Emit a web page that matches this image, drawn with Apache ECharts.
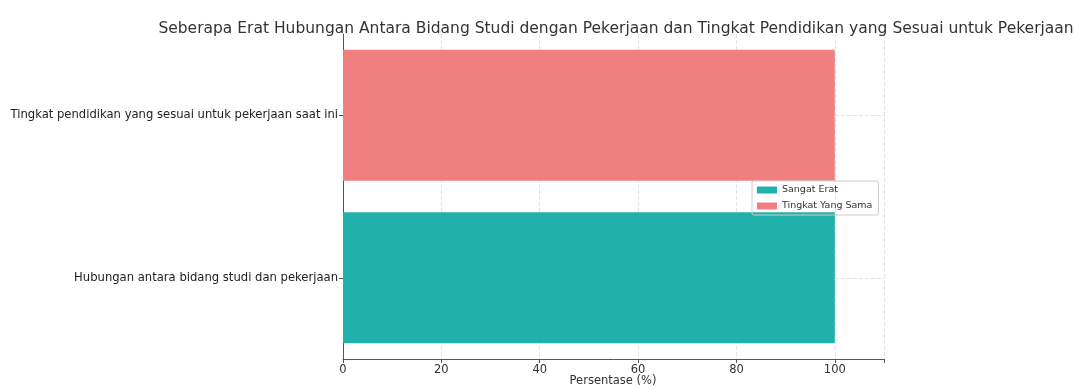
<!DOCTYPE html>
<html><head><meta charset="utf-8">
<script src="https://cdn.jsdelivr.net/npm/echarts@6/dist/echarts.min.js"></script>
<style>html,body{margin:0;padding:0;background:#fff}#c{width:1074px;height:387px}</style>
</head><body><div id="c"></div>
<script>
var titleText = 'Seberapa Erat Hubungan Antara Bidang Studi dengan Pekerjaan dan Tingkat Pendidikan yang Sesuai untuk Pekerjaan';
var xAxisName = 'Persentase (%)';
var categories = ['Hubungan antara bidang studi dan pekerjaan', 'Tingkat pendidikan yang sesuai untuk pekerjaan saat ini'];
var seriesNames = ['Sangat Erat', 'Tingkat Yang Sama'];
var sangatErat = [100, '-'];
var tingkatSama = ['-', 100];
var xTicks = [0, 20, 40, 60, 80, 100];
var xMax = 110;
var F = 'DejaVu Sans';
var chart = echarts.init(document.getElementById('c'));
chart.setOption({
  animation: false,
  title: [
    { text: titleText, left: 611, textAlign: 'center', top: 16,
      textStyle: { fontFamily: F, fontSize: 15.5, fontWeight: 'normal', color: '#333' } },
    { text: xAxisName, left: 613, textAlign: 'center', top: 375, padding: 0,
      textStyle: { fontFamily: F, fontSize: 11.5, fontWeight: 'normal', color: '#333' } }
  ],
  grid: { left: 343, right: 190, top: 34, bottom: 28, containLabel: false, outerBoundsMode: 'none' },
  legend: { orient: 'vertical', left: 752, top: 181, itemWidth: 20, itemHeight: 7, itemGap: 6,
    padding: [4, 6, 4, 5], borderColor: '#ccc', borderWidth: 1, borderRadius: 2,
    textStyle: { fontFamily: F, fontSize: 9.5, color: '#333' }, icon: 'rect',
    data: seriesNames },
  xAxis: { type: 'value', min: 0, max: xMax, interval: 20,
    axisLine: { show: true, lineStyle: { color: '#555', width: 1 } },
    axisTick: { show: true, length: 4, lineStyle: { color: '#555' } },
    axisLabel: { fontFamily: F, fontSize: 11.5, color: '#333', margin: 5,
      formatter: function (v) { return xTicks.indexOf(v) >= 0 ? String(v) : ''; } },
    splitLine: { show: true, lineStyle: { color: '#e3e3e3', type: 'dashed', width: 1 } } },
  yAxis: { type: 'category', data: categories,
    axisLine: { show: true, lineStyle: { color: '#555', width: 1 } },
    axisTick: { show: true, alignWithLabel: true, length: 4, lineStyle: { color: '#555' } },
    axisLabel: { fontFamily: F, fontSize: 11.6, color: '#222', margin: 5 },
    splitLine: { show: false } },
  series: [
    { name: seriesNames[0], type: 'bar', stack: 's', data: sangatErat, barWidth: 131,
      itemStyle: { color: '#20b2aa' },
      markLine: { silent: true, symbol: 'none', label: { show: false },
        lineStyle: { color: '#e3e3e3', type: 'dashed', width: 1 },
        data: [[{ coord: [100, categories[0]] }, { coord: [xMax, categories[0]] }],
               [{ coord: [100, categories[1]] }, { coord: [xMax, categories[1]] }]] } },
    { name: seriesNames[1], type: 'bar', stack: 's', data: tingkatSama, barWidth: 131,
      itemStyle: { color: '#f08080' } }
  ]
});
</script></body></html>
